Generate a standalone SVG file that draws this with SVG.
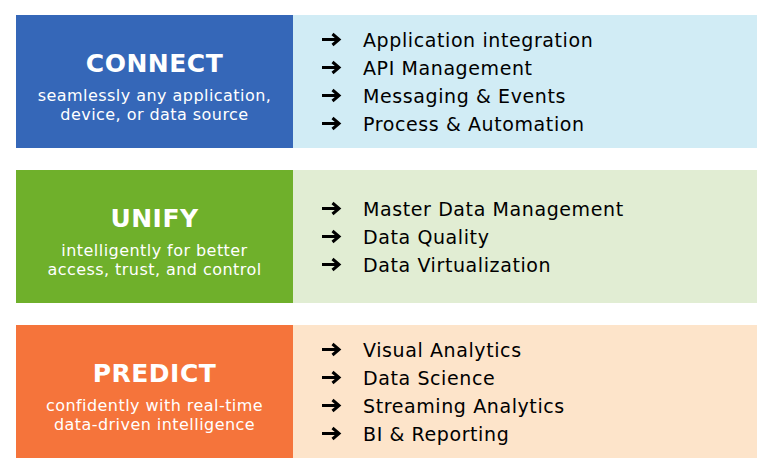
<svg xmlns="http://www.w3.org/2000/svg" width="776" height="475" viewBox="0 0 776 475">
  <style>
    .title { font-family: "DejaVu Sans", Verdana, sans-serif; font-weight: bold; font-size: 25px; letter-spacing: 0.5px; fill: #ffffff; text-anchor: middle; }
    .sub { font-family: "DejaVu Sans", Verdana, sans-serif; font-size: 16px; letter-spacing: 0.45px; fill: #ffffff; text-anchor: middle; }
    .item { font-family: "DejaVu Sans", Verdana, sans-serif; font-size: 19px; letter-spacing: 0.6px; fill: #000000; }
    .bullet { fill: none; stroke: #000000; stroke-width: 3; stroke-linejoin: miter; }
  </style>
  <defs>
    <!-- heavy right arrow used as list bullet, origin at its vertical centre -->
    <path id="arrow" class="bullet" d="M1,0 H17.5 M11.5,-5.5 L18,0 L11.5,5.5"/>
  </defs>
  <rect width="776" height="475" fill="#ffffff"/>

  <!-- CONNECT band -->
  <g id="connect">
    <rect x="16" y="15" width="277" height="133" fill="#3567B8"/>
    <rect x="293" y="15" width="464" height="133" fill="#D1ECF5"/>
    <text class="title" x="154.5" y="72">CONNECT</text>
    <text class="sub" x="154.5" y="101">seamlessly any application,</text>
    <text class="sub" x="154.5" y="120">device, or data source</text>
    <use href="#arrow" x="321" y="39.5"/>
    <text class="item" x="363" y="46.5">Application integration</text>
    <use href="#arrow" x="321" y="67.5"/>
    <text class="item" x="363" y="74.5">API Management</text>
    <use href="#arrow" x="321" y="95.5"/>
    <text class="item" x="363" y="102.5">Messaging &amp; Events</text>
    <use href="#arrow" x="321" y="123.5"/>
    <text class="item" x="363" y="130.5">Process &amp; Automation</text>
  </g>

  <!-- UNIFY band -->
  <g id="unify">
    <rect x="16" y="170" width="277" height="133" fill="#6FB02B"/>
    <rect x="293" y="170" width="464" height="133" fill="#E1EDD3"/>
    <text class="title" x="154.5" y="227">UNIFY</text>
    <text class="sub" x="154.5" y="256">intelligently for better</text>
    <text class="sub" x="154.5" y="275">access, trust, and control</text>
    <use href="#arrow" x="321" y="208.5"/>
    <text class="item" x="363" y="215.5">Master Data Management</text>
    <use href="#arrow" x="321" y="236.5"/>
    <text class="item" x="363" y="243.5">Data Quality</text>
    <use href="#arrow" x="321" y="264.5"/>
    <text class="item" x="363" y="271.5">Data Virtualization</text>
  </g>

  <!-- PREDICT band -->
  <g id="predict">
    <rect x="16" y="325" width="277" height="133" fill="#F5743B"/>
    <rect x="293" y="325" width="464" height="133" fill="#FDE4CA"/>
    <text class="title" x="154.5" y="382">PREDICT</text>
    <text class="sub" x="154.5" y="411">confidently with real-time</text>
    <text class="sub" x="154.5" y="430">data-driven intelligence</text>
    <use href="#arrow" x="321" y="349.5"/>
    <text class="item" x="363" y="356.5">Visual Analytics</text>
    <use href="#arrow" x="321" y="377.5"/>
    <text class="item" x="363" y="384.5">Data Science</text>
    <use href="#arrow" x="321" y="405.5"/>
    <text class="item" x="363" y="412.5">Streaming Analytics</text>
    <use href="#arrow" x="321" y="433.5"/>
    <text class="item" x="363" y="440.5">BI &amp; Reporting</text>
  </g>

  <g id="connectors"></g>
</svg>
